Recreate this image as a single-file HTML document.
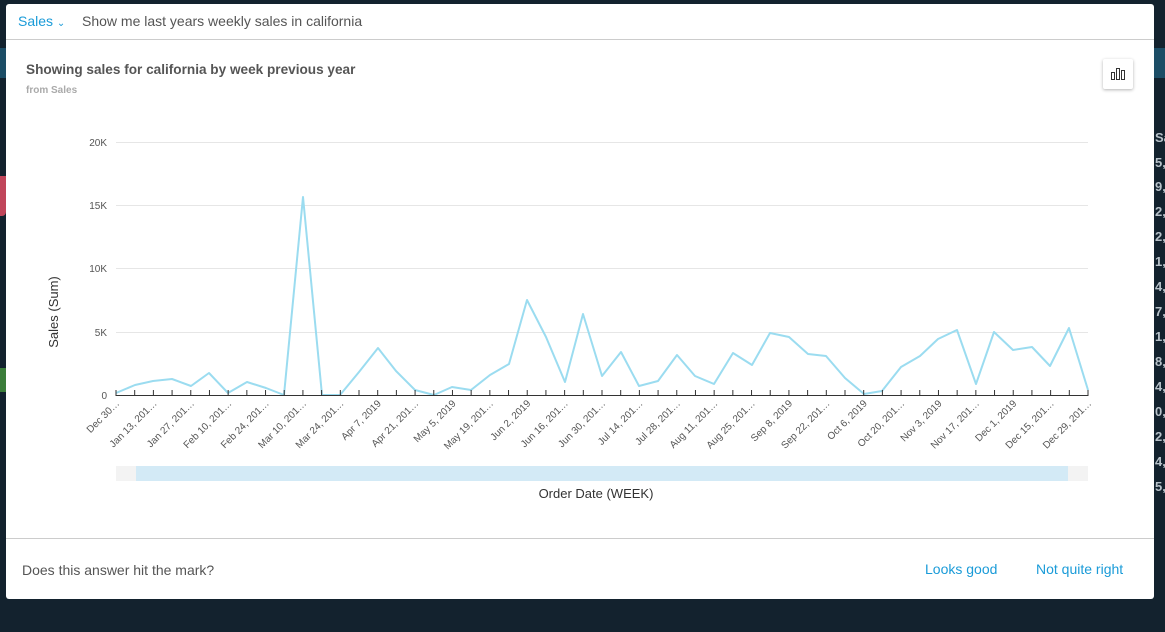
<!DOCTYPE html>
<html><head><meta charset="utf-8"><style>
body{margin:0;width:1165px;height:632px;background:#13222e;position:relative;overflow:hidden;font-family:"Liberation Sans",sans-serif}
.m{position:absolute;left:6px;top:4px;width:1148px;height:595px;background:#fff;border-radius:3px}
.rp{position:absolute;left:1154px;top:48px;width:11px;height:30px;background:#1c4d66}
.rn{position:absolute;left:1155px;font-size:13px;font-weight:bold;color:#b8c2ca;line-height:13px}
</style></head><body>
<div style="position:absolute;left:0;top:48px;width:6px;height:30px;background:#1c4d66"></div>
<div style="position:absolute;left:0;top:176px;width:6px;height:40px;background:#c0455a;border-radius:0 0 4px 0"></div>
<div style="position:absolute;left:0;top:368px;width:6px;height:24px;background:#3b7d3a"></div>
<div class="rp"></div>
<div class="rn" style="top:131px">Sa</div>
<div class="rn" style="top:156px">5,</div>
<div class="rn" style="top:180px">9,</div>
<div class="rn" style="top:205px">2,</div>
<div class="rn" style="top:230px">2,</div>
<div class="rn" style="top:255px">1,</div>
<div class="rn" style="top:280px">4,</div>
<div class="rn" style="top:305px">7,</div>
<div class="rn" style="top:330px">1,</div>
<div class="rn" style="top:355px">8,</div>
<div class="rn" style="top:380px">4,</div>
<div class="rn" style="top:405px">0,</div>
<div class="rn" style="top:430px">2,</div>
<div class="rn" style="top:455px">4,</div>
<div class="rn" style="top:480px">5,</div>
<div class="m">
<div style="position:absolute;left:12px;top:9px;font-size:14px;color:#1a9bd8">Sales <span style="font-size:10px">&#8964;</span></div>
<div style="position:absolute;left:76px;top:9px;font-size:14px;color:#555">Show me last years weekly sales in california</div>
<div style="position:absolute;left:0;top:35px;width:1148px;height:1px;background:#ccc"></div>
<div style="position:absolute;left:20px;top:58px;font-size:13.6px;font-weight:bold;color:#555">Showing sales for california by week previous year</div>
<div style="position:absolute;left:20px;top:81px;font-size:10px;font-weight:bold;color:#aaa">from Sales</div>
<div style="position:absolute;left:1097px;top:55px;width:30px;height:30px;border-radius:2px;box-shadow:0 1px 3px rgba(0,0,0,.3);background:#fff">
<svg width="30" height="30"><g fill="none" stroke="#333" stroke-width="1"><rect x="8.5" y="13.5" width="3" height="7"/><rect x="13.5" y="9.5" width="3" height="11"/><rect x="18.5" y="11.5" width="3" height="9"/></g></svg></div>
<div style="position:absolute;left:0;top:534px;width:1148px;height:1px;background:#ccc"></div>
<div style="position:absolute;left:16px;top:558px;font-size:14px;color:#555">Does this answer hit the mark?</div>
<div style="position:absolute;left:919px;top:557px;font-size:14px;color:#1a9bd8">Looks good</div>
<div style="position:absolute;left:1030px;top:557px;font-size:14px;color:#1a9bd8">Not quite right</div>
</div>
<svg style="position:absolute;left:0;top:0" width="1165" height="632" font-family="Liberation Sans,sans-serif">
<g stroke="#e6e6e6" stroke-width="1">
<line x1="116" x2="1088" y1="142.5" y2="142.5"/><line x1="116" x2="1088" y1="205.5" y2="205.5"/><line x1="116" x2="1088" y1="268.5" y2="268.5"/><line x1="116" x2="1088" y1="332.5" y2="332.5"/>
</g>
<g font-size="10" fill="#555" text-anchor="end">
<text x="107" y="146">20K</text><text x="107" y="209">15K</text><text x="107" y="272">10K</text><text x="107" y="336">5K</text><text x="107" y="399">0</text>
</g>
<text transform="translate(58,312) rotate(-90)" font-size="13" fill="#333" text-anchor="middle">Sales (Sum)</text>
<polyline fill="none" stroke="#9bdcf0" stroke-width="2" stroke-linejoin="round" points="116,393 135,385 153,381 172,379 191,386 209,373 228,393 247,382 266,388 284,395 303,197 322,395 340,395 359,372 378,348 396,371 415,390 434,395 452,387 471,390 490,375 509,364 527,300 546,337 565,382 583,314 602,376 621,352 639,386 658,381 677,355 695,376 714,384 733,353 752,365 770,333 789,337 808,354 826,356 845,378 864,394 882,391 901,367 920,356 938,339 957,330 976,384 994,332 1013,350 1032,347 1050,366 1069,328 1088,390"/>
<line x1="116" x2="1088" y1="395.5" y2="395.5" stroke="#333" stroke-width="1"/>
<g id="ticks" stroke="#333"></g>
<g id="labs" font-size="10" fill="#555" text-anchor="end"></g>
<rect x="116" y="466" width="972" height="15" fill="#f3f3f3"/>
<rect x="136" y="466" width="932" height="15" fill="#d3eaf6"/>
<text x="596" y="498" font-size="13" fill="#333" text-anchor="middle">Order Date (WEEK)</text>
</svg>
<script>
var labs=["Dec 30…","Jan 13, 201…","Jan 27, 201…","Feb 10, 201…","Feb 24, 201…","Mar 10, 201…","Mar 24, 201…","Apr 7, 2019","Apr 21, 201…","May 5, 2019","May 19, 201…","Jun 2, 2019","Jun 16, 201…","Jun 30, 201…","Jul 14, 201…","Jul 28, 201…","Aug 11, 201…","Aug 25, 201…","Sep 8, 2019","Sep 22, 201…","Oct 6, 2019","Oct 20, 201…","Nov 3, 2019","Nov 17, 201…","Dec 1, 2019","Dec 15, 201…","Dec 29, 201…"];
var ns="http://www.w3.org/2000/svg",t=document.getElementById("ticks"),l=document.getElementById("labs");
for(var i=0;i<53;i++){var x=116+972/52*i;var e=document.createElementNS(ns,"line");e.setAttribute("x1",x);e.setAttribute("x2",x);e.setAttribute("y1",390);e.setAttribute("y2",396);t.appendChild(e);
if(i%2==0){var s=document.createElementNS(ns,"text");s.setAttribute("transform","translate("+(x+4)+",404) rotate(-45)");s.textContent=labs[i/2];l.appendChild(s);}}
</script>
</body></html>
